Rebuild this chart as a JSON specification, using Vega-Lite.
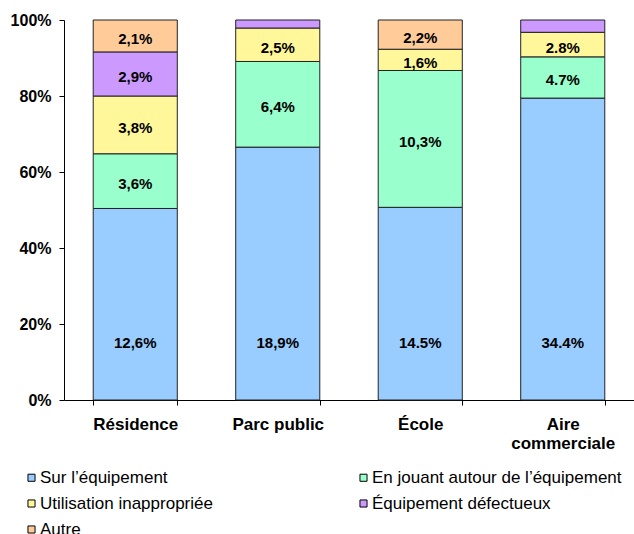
{
  "$schema": "https://vega.github.io/schema/vega-lite/v6.json",
  "autosize": "none",
  "width": 570,
  "height": 380,
  "padding": {"left": 64, "top": 20, "right": 0, "bottom": 134},
  "background": "white",
  "config": {"font": "Liberation Sans", "view": {"stroke": null}},
  "data": {
    "values": [
      {"cat": "Résidence", "series": "Sur l’équipement", "value": 12.6, "label": "12,6%"},
      {"cat": "Résidence", "series": "En jouant autour de l’équipement", "value": 3.6, "label": "3,6%"},
      {"cat": "Résidence", "series": "Utilisation inappropriée", "value": 3.8, "label": "3,8%"},
      {"cat": "Résidence", "series": "Équipement défectueux", "value": 2.9, "label": "2,9%"},
      {"cat": "Résidence", "series": "Autre", "value": 2.1, "label": "2,1%"},
      {"cat": "Parc public", "series": "Sur l’équipement", "value": 18.9, "label": "18,9%"},
      {"cat": "Parc public", "series": "En jouant autour de l’équipement", "value": 6.4, "label": "6,4%"},
      {"cat": "Parc public", "series": "Utilisation inappropriée", "value": 2.5, "label": "2,5%"},
      {"cat": "Parc public", "series": "Équipement défectueux", "value": 0.6, "label": ""},
      {"cat": "École", "series": "Sur l’équipement", "value": 14.5, "label": "14.5%"},
      {"cat": "École", "series": "En jouant autour de l’équipement", "value": 10.3, "label": "10,3%"},
      {"cat": "École", "series": "Utilisation inappropriée", "value": 1.6, "label": "1,6%"},
      {"cat": "École", "series": "Autre", "value": 2.2, "label": "2,2%"},
      {"cat": "Aire commerciale", "series": "Sur l’équipement", "value": 34.4, "label": "34.4%"},
      {"cat": "Aire commerciale", "series": "En jouant autour de l’équipement", "value": 4.7, "label": "4.7%"},
      {"cat": "Aire commerciale", "series": "Utilisation inappropriée", "value": 2.8, "label": "2.8%"},
      {"cat": "Aire commerciale", "series": "Équipement défectueux", "value": 1.4, "label": ""}
    ]
  },
  "transform": [
    {"calculate": "indexof(['Sur l’équipement', 'En jouant autour de l’équipement', 'Utilisation inappropriée', 'Équipement défectueux', 'Autre'], datum.series)", "as": "k"},
    {"stack": "value", "groupby": ["cat"], "sort": [{"field": "k", "order": "ascending"}], "offset": "normalize", "as": ["y0", "y1"]},
    {"calculate": "(datum.y0 + datum.y1) / 2", "as": "mid"}
  ],
  "encoding": {
    "x": {
      "field": "cat",
      "type": "nominal",
      "sort": ["Résidence", "Parc public", "École", "Aire commerciale"],
      "scale": {"paddingInner": 0.41, "paddingOuter": 0.205},
      "axis": {
        "title": null,
        "labelAngle": 0,
        "tickBand": "extent",
        "tickSize": 5,
        "tickColor": "#000",
        "domainColor": "#000",
        "labelFontSize": 17,
        "labelFontWeight": "bold",
        "labelColor": "#000",
        "labelPadding": 11,
        "labelLineHeight": 19,
        "labelExpr": "datum.value == 'Aire commerciale' ? ['Aire', 'commerciale'] : datum.value"
      }
    }
  },
  "layer": [
    {
      "mark": {"type": "bar", "stroke": "#222", "strokeWidth": 1},
      "encoding": {
        "y": {
          "field": "y0",
          "type": "quantitative",
          "scale": {"domain": [0, 1]},
          "axis": {
            "title": null,
            "values": [0, 0.2, 0.4, 0.6, 0.8, 1],
            "format": ".0%",
            "grid": false,
            "tickSize": 5,
            "tickColor": "#000",
            "domainColor": "#000",
            "labelFontSize": 16,
            "labelFontWeight": "bold",
            "labelColor": "#000",
            "labelPadding": 8
          }
        },
        "y2": {"field": "y1"},
        "color": {
          "field": "series",
          "type": "nominal",
          "scale": {
            "domain": ["Sur l’équipement", "En jouant autour de l’équipement", "Utilisation inappropriée", "Équipement défectueux", "Autre"],
            "range": ["#99CCFF", "#99FFCC", "#FFF799", "#CC99FF", "#FFCC99"]
          },
          "legend": {
            "title": null,
            "orient": "none",
            "legendX": -41,
            "legendY": 449,
            "padding": 0,
            "direction": "horizontal",
            "columns": 2,
            "columnPadding": 142,
            "rowPadding": 8,
            "symbolType": "square",
            "symbolSize": 50,
            "symbolStrokeColor": "#000",
            "symbolStrokeWidth": 1,
            "labelFontSize": 17,
            "labelColor": "#000",
            "labelOffset": 0,
            "labelLimit": 400
          }
        }
      }
    },
    {
      "transform": [{"filter": "datum.label != '' && datum.series != 'Sur l’équipement'"}],
      "mark": {"type": "text", "fontSize": 15, "fontWeight": "bold", "color": "#000", "dy": 3},
      "encoding": {
        "y": {"field": "mid", "type": "quantitative"},
        "text": {"field": "label"}
      }
    },
    {
      "transform": [{"filter": "datum.series == 'Sur l’équipement'"}],
      "mark": {"type": "text", "fontSize": 15, "fontWeight": "bold", "color": "#000"},
      "encoding": {
        "y": {"datum": 0.15},
        "text": {"field": "label"}
      }
    }
  ]
}
